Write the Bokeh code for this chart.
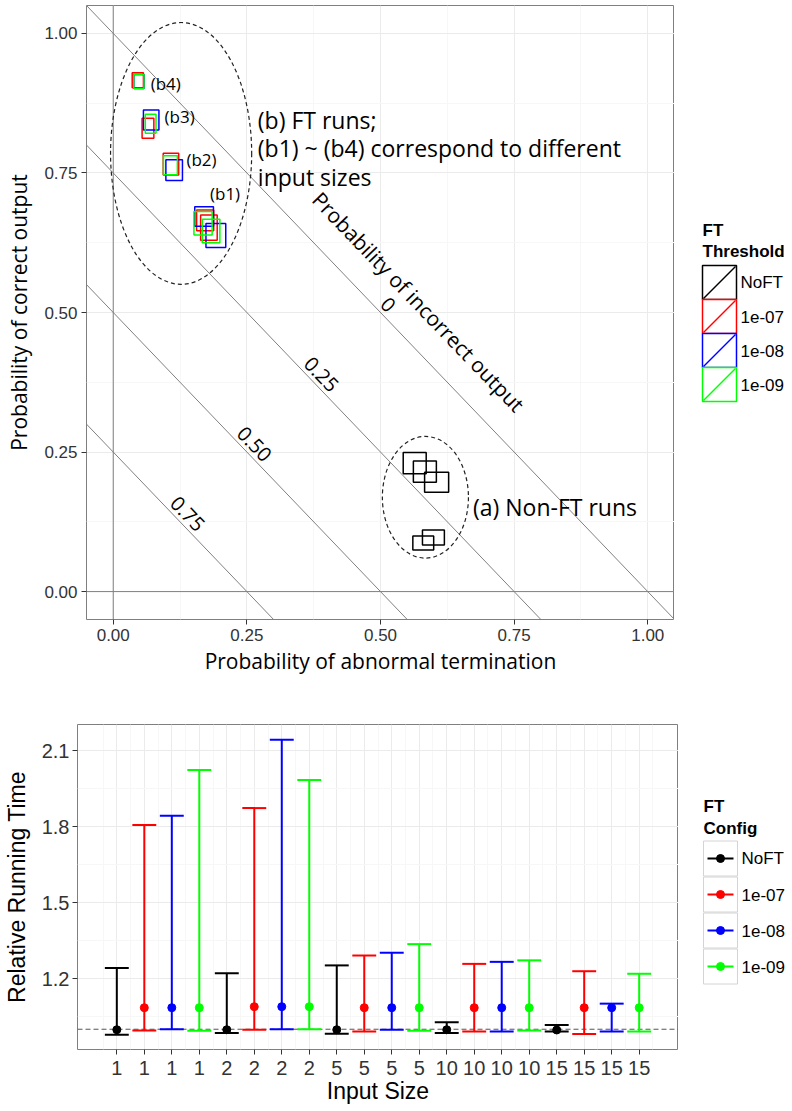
from bokeh.plotting import figure
from bokeh.models import ColumnDataSource, FixedTicker, Span, Slope, Range1d
from bokeh.layouts import column, row
from bokeh.embed import file_html
from bokeh.resources import INLINE
from bokeh.core.properties import value

SANS = "Liberation Sans"
OPEN = "Open Sans"

# ---------------- data: top chart ----------------
ft_levels = ["NoFT", "1e-07", "1e-08", "1e-09"]
level_colors = ["#000000", "#FF0000", "#0000FF", "#00FF00"]

# probability of abnormal termination (x), probability of correct output (y),
# and the extent of each box (spread) in both directions
noft_abnormal = [0.564, 0.583, 0.605, 0.580, 0.599]
noft_correct = [0.230, 0.215, 0.196, 0.087, 0.097]
noft_abn_spread = [0.043, 0.043, 0.045, 0.039, 0.041]
noft_cor_spread = [0.038, 0.038, 0.036, 0.025, 0.027]

ft7_abnormal = [0.046, 0.065, 0.108, 0.172, 0.179]
ft7_correct = [0.916, 0.830, 0.766, 0.665, 0.652]
ft7_abn_spread = [0.021, 0.022, 0.029, 0.032, 0.031]
ft7_cor_spread = [0.027, 0.036, 0.039, 0.037, 0.045]

ft8_abnormal = [0.048, 0.071, 0.114, 0.170, 0.192]
ft8_correct = [0.914, 0.845, 0.755, 0.672, 0.638]
ft8_abn_spread = [0.019, 0.029, 0.031, 0.035, 0.037]
ft8_cor_spread = [0.025, 0.036, 0.037, 0.035, 0.043]

ft9_abnormal = [0.048, 0.070, 0.107, 0.168, 0.183]
ft9_correct = [0.914, 0.838, 0.764, 0.660, 0.646]
ft9_abn_spread = [0.019, 0.020, 0.026, 0.034, 0.033]
ft9_cor_spread = [0.025, 0.034, 0.034, 0.042, 0.042]

top_ticks = [0.0, 0.25, 0.50, 0.75, 1.0]
top_tick_labels = ["0.00", "0.25", "0.50", "0.75", "1.00"]

incorrect_levels = [0.0, 0.25, 0.50, 0.75]
incorrect_labels = ["0", "0.25", "0.50", "0.75"]

group_labels = ["(b4)", "(b3)", "(b2)", "(b1)"]
group_label_x = [0.070, 0.096, 0.137, 0.181]
group_label_y = [0.910, 0.852, 0.774, 0.713]

notes = ["(b) FT runs;", "(b1) ~ (b4) correspond to different", "input sizes", "(a) Non-FT runs"]
note_x = [0.2705, 0.2705, 0.2705, 0.673]
note_y = [0.845, 0.794, 0.743, 0.152]

cluster_x = [0.127, 0.584]
cluster_y = [0.785, 0.169]
cluster_w = [0.264, 0.161]
cluster_h = [0.469, 0.218]

# ---------------- data: bottom chart ----------------
input_sizes = [1, 2, 5, 10, 15]
rt_low = {
    "NoFT": [0.978, 0.985, 0.982, 0.985, 0.991],
    "1e-07": [0.995, 0.998, 0.991, 0.991, 0.981],
    "1e-08": [1.000, 1.000, 0.998, 0.991, 0.991],
    "1e-09": [0.994, 1.000, 0.994, 0.995, 0.991],
}
rt_high = {
    "NoFT": [1.242, 1.221, 1.252, 1.028, 1.017],
    "1e-07": [1.806, 1.873, 1.291, 1.258, 1.229],
    "1e-08": [1.843, 2.143, 1.302, 1.266, 1.101],
    "1e-09": [2.023, 1.984, 1.336, 1.272, 1.219],
}
rt_mean = {
    "NoFT": [0.998, 0.998, 0.998, 0.998, 0.997],
    "1e-07": [1.085, 1.089, 1.085, 1.085, 1.085],
    "1e-08": [1.085, 1.089, 1.085, 1.085, 1.085],
    "1e-09": [1.085, 1.089, 1.085, 1.085, 1.085],
}
bottom_y_ticks = [1.2, 1.5, 1.8, 2.1]
bottom_y_labels = ["1.2", "1.5", "1.8", "2.1"]

PAGE_RIGHT = 784


def legend_panel(left, frame_top, frame_bottom, height):
    # a blank panel whose coordinates are page pixels (frame is aligned with the chart frame)
    f = figure(width=PAGE_RIGHT - left, height=height,
               x_range=Range1d(left, PAGE_RIGHT), y_range=Range1d(frame_bottom, frame_top),
               x_axis_type=None, y_axis_type=None, output_backend="svg", toolbar_location=None,
               min_border=0, outline_line_color=None, background_fill_color="white",
               border_fill_color="white")
    f.grid.visible = False
    return f


def legend_title(f, lines, x, y0, dy):
    f.text(x=[x] * len(lines), y=[y0 + dy * i for i in range(len(lines))], text=lines,
           text_font=value(SANS), text_font_size="17px", text_font_style="bold",
           text_color="black", text_align="left", text_baseline="middle")


# ================= TOP FIGURE =================
TOP_FRAME_TOP = 5
TOP_FRAME_H = 614
TOP_FRAME_BOTTOM = TOP_FRAME_TOP + TOP_FRAME_H
TOP_H = 681
top = figure(frame_width=588, frame_height=TOP_FRAME_H,
             x_range=Range1d(-0.05, 1.05), y_range=Range1d(-0.05, 1.05),
             output_backend="svg", toolbar_location=None,
             min_border_left=86, min_border_right=0, min_border_top=TOP_FRAME_TOP,
             min_border_bottom=TOP_H - TOP_FRAME_BOTTOM,
             outline_line_color="#7f7f7f", outline_line_width=1,
             background_fill_color="white", border_fill_color="white")

minor_top = [0.125, 0.375, 0.625, 0.875]
for g in (top.xgrid, top.ygrid):
    g.ticker = FixedTicker(ticks=top_ticks, minor_ticks=minor_top)
    g.grid_line_color = "#ebebeb"
    g.minor_grid_line_color = "#f7f7f7"

for ax in (top.xaxis, top.yaxis):
    ax.ticker = FixedTicker(ticks=top_ticks)
    ax.major_label_overrides = {t: l for t, l in zip(top_ticks, top_tick_labels)}
    ax.axis_line_color = None
    ax.major_tick_line_color = "#333333"
    ax.major_tick_out = 5
    ax.major_tick_in = 0
    ax.minor_tick_line_color = None
    ax.major_label_text_font = SANS
    ax.major_label_text_font_size = "17px"
    ax.major_label_text_color = "#333333"
    ax.major_label_standoff = 4
    ax.axis_label_text_font = OPEN
    ax.axis_label_text_font_size = "21px"
    ax.axis_label_text_font_style = "normal"
    ax.axis_label_text_color = "black"
top.xaxis.axis_label = "Probability of abnormal termination"
top.yaxis.axis_label = "Probability of correct output"
top.xaxis.axis_label_standoff = 3
top.yaxis.axis_label_standoff = 8

top.add_layout(Span(location=0, dimension="height", line_color="#808080", line_width=1, level="underlay"))
top.add_layout(Span(location=0, dimension="width", line_color="#808080", line_width=1, level="underlay"))
for lvl in incorrect_levels:
    top.add_layout(Slope(gradient=-1, y_intercept=1 - lvl, line_color="#808080",
                         line_width=1, level="underlay"))

top.ellipse(x=cluster_x, y=cluster_y, width=cluster_w, height=cluster_h,
            fill_alpha=0, line_color="#222222", line_dash="4 3", line_width=1.2)

series = [
    (noft_abnormal, noft_correct, noft_abn_spread, noft_cor_spread),
    (ft7_abnormal, ft7_correct, ft7_abn_spread, ft7_cor_spread),
    (ft8_abnormal, ft8_correct, ft8_abn_spread, ft8_cor_spread),
    (ft9_abnormal, ft9_correct, ft9_abn_spread, ft9_cor_spread),
]
for lvl, col, (xs, ys, ws, hs) in zip(ft_levels, level_colors, series):
    src = ColumnDataSource(dict(x=xs, y=ys, w=ws, h=hs))
    top.rect(x="x", y="y", width="w", height="h", source=src,
             fill_alpha=0, line_color=col, line_width=1.5)

label_pos = [(1 - lvl) / 2 + 0.014 for lvl in incorrect_levels]
top.text(x=label_pos, y=label_pos, text=incorrect_labels, angle=-0.806,
         text_font=value(OPEN), text_font_size="20px", text_color="black",
         text_align="center", text_baseline="middle")
top.text(x=[0.571], y=[0.519], text=["Probability of incorrect output"], angle=-0.806,
         text_font=value(OPEN), text_font_size="21px", text_color="black",
         text_align="center", text_baseline="middle")
top.text(x=group_label_x, y=group_label_y, text=group_labels,
         text_font=value(OPEN), text_font_size="17px", text_color="black",
         text_align="left", text_baseline="middle")
top.text(x=note_x, y=note_y, text=notes,
         text_font=value(OPEN), text_font_size="23px", text_color="black",
         text_align="left", text_baseline="middle")

# ---- legend panel (top): "FT Threshold" ----
TOP_LEFT_W = 86 + 588
tleg = legend_panel(TOP_LEFT_W, TOP_FRAME_TOP, TOP_FRAME_BOTTOM, TOP_H)
KEY = 34
tk_x0, tk_y0 = 702, 265
n = len(ft_levels)
tk_top = [tk_y0 + KEY * i for i in range(n)]
tleg.rect(x=[tk_x0 + KEY / 2] * n, y=[t + KEY / 2 for t in tk_top], width=KEY, height=KEY,
          fill_color="white", line_color=level_colors, line_width=1.5)
tleg.segment(x0=[tk_x0 + 1] * n, y0=[t + KEY - 1 for t in tk_top],
             x1=[tk_x0 + KEY - 1] * n, y1=[t + 1 for t in tk_top],
             line_color=level_colors, line_width=1.5)
tleg.text(x=[tk_x0 + KEY + 4] * n, y=[t + KEY / 2 for t in tk_top], text=ft_levels,
          text_font=value(SANS), text_font_size="17px", text_color="black",
          text_align="left", text_baseline="middle")
legend_title(tleg, ["FT", "Threshold"], tk_x0, 230, 21)

# ================= BOTTOM FIGURE =================
BOT_FRAME_TOP = 724
BOT_FRAME = 325
BOT_FRAME_BOTTOM = BOT_FRAME_TOP + BOT_FRAME
BOT_BOTTOM = 58
BOT_H = (BOT_FRAME_TOP - TOP_H) + BOT_FRAME + BOT_BOTTOM
bot = figure(frame_width=601, frame_height=BOT_FRAME,
             x_range=Range1d(-0.43, 21.43), y_range=Range1d(0.92, 2.203),
             output_backend="svg", toolbar_location=None,
             min_border_left=76, min_border_right=0, min_border_top=BOT_FRAME_TOP - TOP_H,
             min_border_bottom=BOT_BOTTOM,
             outline_line_color="#7f7f7f", outline_line_width=1,
             background_fill_color="white", border_fill_color="white")

n_cfg = len(ft_levels)
positions = [i * n_cfg + j + 1 for i in range(len(input_sizes)) for j in range(n_cfg)]
pos_labels = [str(s) for s in input_sizes for _ in range(n_cfg)]

bot.xgrid.ticker = FixedTicker(ticks=positions,
                               minor_ticks=[p - 0.5 for p in positions] + [positions[-1] + 0.5])
bot.ygrid.ticker = FixedTicker(ticks=bottom_y_ticks, minor_ticks=[t - 0.15 for t in bottom_y_ticks])
for g in (bot.xgrid, bot.ygrid):
    g.grid_line_color = "#ebebeb"
    g.minor_grid_line_color = "#f7f7f7"

bot.xaxis.ticker = FixedTicker(ticks=positions)
bot.xaxis.major_label_overrides = {p: l for p, l in zip(positions, pos_labels)}
bot.yaxis.ticker = FixedTicker(ticks=bottom_y_ticks)
bot.yaxis.major_label_overrides = {t: l for t, l in zip(bottom_y_ticks, bottom_y_labels)}
for ax in (bot.xaxis, bot.yaxis):
    ax.axis_line_color = None
    ax.major_tick_line_color = "#333333"
    ax.major_tick_out = 5
    ax.major_tick_in = 0
    ax.minor_tick_line_color = None
    ax.major_label_text_font = SANS
    ax.major_label_text_font_size = "20px"
    ax.major_label_text_color = "#333333"
    ax.axis_label_text_font = SANS
    ax.axis_label_text_font_size = "23px"
    ax.axis_label_text_font_style = "normal"
    ax.axis_label_text_color = "black"
bot.xaxis.axis_label = "Input Size"
bot.yaxis.axis_label = "Relative Running Time"
bot.xaxis.major_label_standoff = 6
bot.xaxis.axis_label_standoff = 0
bot.yaxis.major_label_standoff = 3
bot.yaxis.axis_label_standoff = 9

bot.add_layout(Span(location=1.0, dimension="width", line_color="#555555", line_width=1,
                    line_dash="5 3", level="underlay"))

cap_half = 0.435
for j, (lvl, col) in enumerate(zip(ft_levels, level_colors)):
    xs = [i * n_cfg + j + 1 for i in range(len(input_sizes))]
    src = ColumnDataSource(dict(x=xs, x0=[x - cap_half for x in xs], x1=[x + cap_half for x in xs],
                                low=rt_low[lvl], high=rt_high[lvl], mean=rt_mean[lvl]))
    bot.segment(x0="x", y0="low", x1="x", y1="high", source=src, line_color=col, line_width=2)
    bot.segment(x0="x0", y0="high", x1="x1", y1="high", source=src, line_color=col, line_width=2)
    bot.segment(x0="x0", y0="low", x1="x1", y1="low", source=src, line_color=col, line_width=2)
    bot.scatter(x="x", y="mean", source=src, size=8, color=col)

# ---- legend panel (bottom): "FT Config" ----
BOT_LEFT_W = 76 + 601
bleg = legend_panel(BOT_LEFT_W, BOT_FRAME_TOP, BOT_FRAME_BOTTOM, BOT_H)
BKW, BKH = 34, 36
bk_x0, bk_y0 = 702, 840
bk_top = [bk_y0 + BKH * i for i in range(n)]
bk_mid = [t + BKH / 2 for t in bk_top]
bleg.rect(x=[bk_x0 + BKW / 2] * n, y=bk_mid, width=BKW, height=BKH - 1,
          fill_color="white", line_color="#d4d4d4", line_width=1)
bleg.segment(x0=[bk_x0 + 4] * n, y0=bk_mid, x1=[bk_x0 + BKW - 4] * n, y1=bk_mid,
             line_color=level_colors, line_width=2)
bleg.scatter(x=[bk_x0 + BKW / 2] * n, y=bk_mid, size=8, color=level_colors)
bleg.text(x=[bk_x0 + BKW + 4] * n, y=bk_mid, text=ft_levels,
          text_font=value(SANS), text_font_size="17px", text_color="black",
          text_align="left", text_baseline="middle")
legend_title(bleg, ["FT", "Config"], bk_x0, 806, 22)

layout = column(row(top, tleg, spacing=0), row(bot, bleg, spacing=0), spacing=0)
open("out.html", "w").write(file_html(layout, INLINE))
